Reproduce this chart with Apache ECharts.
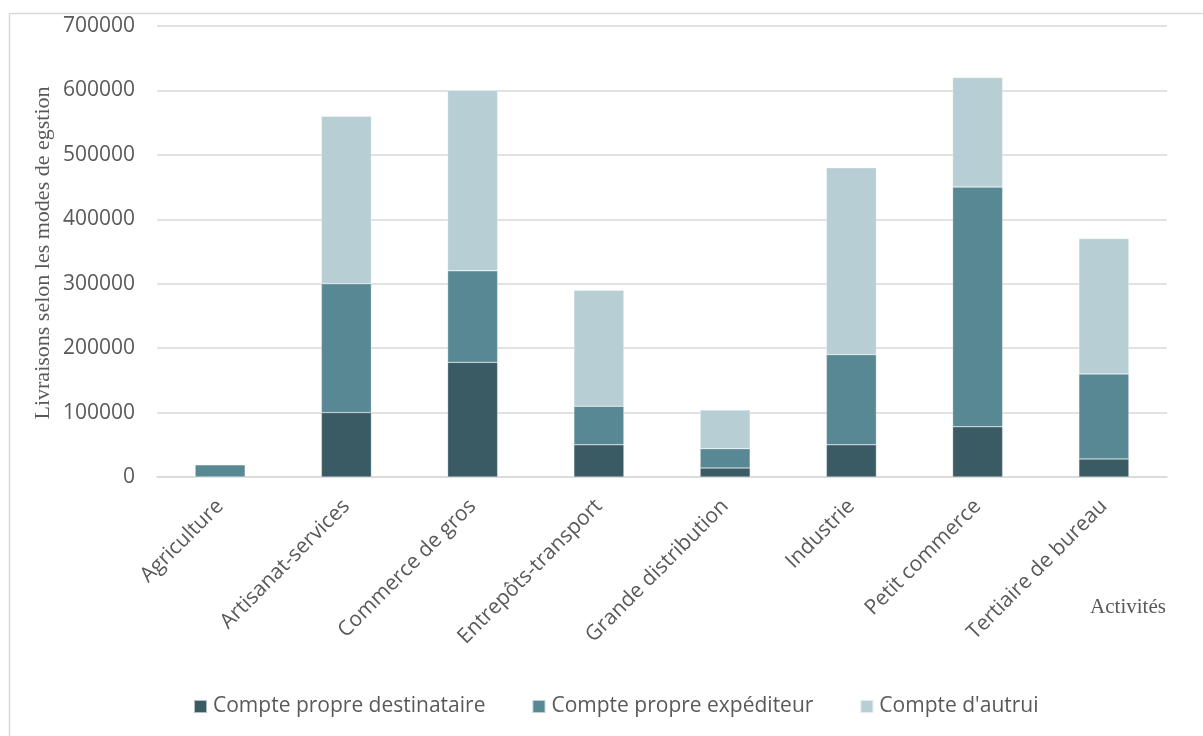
<!DOCTYPE html>
<html>
<head>
<meta charset="utf-8">
<script src="https://cdn.jsdelivr.net/npm/echarts@6/dist/echarts.min.js"></script>
<style>
  html, body { margin: 0; padding: 0; background: #ffffff; }
  #chart { width: 1203px; height: 736px; }
</style>
</head>
<body>
<div id="chart"></div>
<script>
// Activities (x axis)
const activites = [
  'Agriculture', 'Artisanat-services', 'Commerce de gros', 'Entrepôts-transport',
  'Grande distribution', 'Industrie', 'Petit commerce', 'Tertiaire de bureau'
];

// Deliveries by management mode (stacked)
const comptePropreDestinataire = [0, 100000, 178000, 50000, 14000, 50000, 78000, 28000];
const comptePropreExpediteur   = [19000, 200000, 142000, 60000, 30000, 140000, 372000, 132000];
const compteAutrui             = [0, 260000, 280000, 180000, 60000, 290000, 170000, 210000];

const serieNames = ['Compte propre destinataire', 'Compte propre expéditeur', "Compte d'autrui"];
const serieColors = ['#3A5A64', '#578893', '#B7CED5'];

const chart = echarts.init(document.getElementById('chart'), null, { renderer: 'canvas' });

const mkSeries = (name, data, color) => ({
  name: name,
  type: 'bar',
  stack: 'total',
  data: data,
  barWidth: 50,
  itemStyle: { color: color, borderColor: 'rgba(255,255,255,0.6)', borderWidth: 0.5 },
  emphasis: { disabled: true }
});

chart.setOption({
  backgroundColor: '#ffffff',
  animation: false,
  textStyle: { fontFamily: 'Open Sans' },
  grid: { left: 157, right: 36, top: 26, bottom: 259, containLabel: false },
  legend: {
    bottom: 14,
    left: 188,
    itemWidth: 13,
    itemHeight: 13,
    itemGap: 46,
    icon: 'rect',
    textStyle: { fontFamily: 'Open Sans', fontSize: 21, color: '#595959', padding: [0, 0, 0, 1] },
    data: serieNames
  },
  xAxis: {
    type: 'category',
    data: activites,
    axisLine: { lineStyle: { color: '#d9d9d9', width: 1.5 } },
    axisTick: { show: false },
    axisLabel: {
      rotate: 45,
      interval: 0,
      fontFamily: 'Open Sans',
      fontSize: 21,
      color: '#595959',
      margin: 26
    }
  },
  yAxis: {
    type: 'value',
    min: 0,
    max: 700000,
    interval: 100000,
    axisLine: { show: false },
    axisTick: { show: false },
    splitLine: { lineStyle: { color: '#d9d9d9', width: 1.5 } },
    axisLabel: {
      fontFamily: 'Open Sans',
      fontSize: 21,
      color: '#595959',
      margin: 22,
      formatter: (v) => String(v)
    }
  },
  graphic: [
    {
      type: 'rect',
      left: 7, top: 11,
      shape: { width: 1205, height: 735 },
      style: { fill: 'none', stroke: '#d9d9d9', lineWidth: 1.5 },
      silent: true
    },
    {
      type: 'text',
      x: 43, y: 253,
      rotation: Math.PI / 2,
      style: {
        text: 'Livraisons selon les modes de egstion',
        font: '22px "Liberation Serif"',
        fill: '#595959',
        align: 'center',
        verticalAlign: 'middle'
      },
      silent: true
    },
    {
      type: 'text',
      x: 1128, y: 607,
      style: {
        text: 'Activités',
        font: '21px "Liberation Serif"',
        fill: '#595959',
        align: 'center',
        verticalAlign: 'middle'
      },
      silent: true
    }
  ],
  series: [
    mkSeries(serieNames[0], comptePropreDestinataire, serieColors[0]),
    mkSeries(serieNames[1], comptePropreExpediteur, serieColors[1]),
    mkSeries(serieNames[2], compteAutrui, serieColors[2])
  ]
});
</script>
</body>
</html>
